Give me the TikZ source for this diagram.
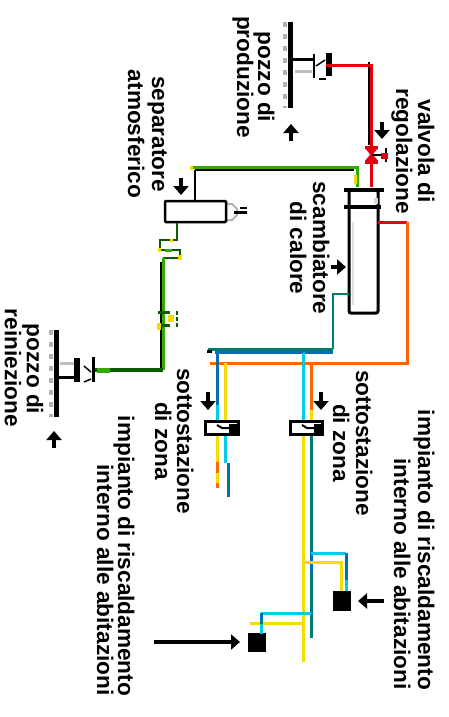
\documentclass[tikz,border=0pt]{standalone}
\usepackage{fontspec}
\setmainfont{Liberation Sans}
\usepackage{tikz}
\usetikzlibrary{arrows.meta}
\definecolor{pipegreen}{HTML}{33AA00}
\definecolor{pipedark}{HTML}{0B5C00}
\definecolor{pipered}{HTML}{E3000F}
\definecolor{pipeorange}{HTML}{FF6600}
\definecolor{pipeyellow}{HTML}{F5DC00}
\definecolor{pipeblue}{HTML}{0070B0}
\definecolor{pipecyan}{HTML}{00CCEE}
\definecolor{pipeteal}{HTML}{007B70}
\tikzset{
    caption/.style={rotate=-90, anchor=base, inner sep=0pt, font=\bfseries\fontsize{22.6}{23}\selectfont},
    pipe/.style={line width=3pt, line join=miter},
    shadow/.style={line width=2pt, black},
    marker/.style={line width=4pt, -{Triangle[width=15pt,length=9pt]}},
    vessel/.style={draw, line width=3pt, fill=white},
    bar/.style={line width=4pt},
    ground/.style={line width=5pt},
    soil/.style={line width=4pt, gray!60, dash pattern=on 5pt off 7pt}
}
\begin{document}
\begin{tikzpicture}[x=1pt, y=-1pt]
    \useasboundingbox (0,0) rectangle (448,717);
    % labels
    \foreach \i/\x/\y/\t in {
        1/258/77/pozzo di, 2/237/77/produzione,
        3/418/151/valvola di, 4/396/151/regolazione,
        5/152/134/separatore, 6/128/134/atmosferico,
        7/313/248/scambiatore, 8/290/248/di calore,
        9/27/369/pozzo di, 10/5/368/reiniezione,
        11/177/441/sottostazione, 12/155/441/di zona,
        13/356/443/sottostazione, 14/333/443/di zona,
        15/418/550/impianto di riscaldamento, 16/394/574/interno alle abitazioni,
        17/118/556/impianto di riscaldamento, 18/97/580/interno alle abitazioni} {
        \node [caption] (label\i) at (\x, \y) {\t};
    }
    % wells
    \foreach \n/\gx/\gy/\gz/\sy in {prod/290/22/108/60, rein/56/330/417/377} {
        \coordinate (\n G1) at (\gx, \gy);
        \coordinate (\n G2) at (\gx, \gz);
        \coordinate (\n S) at (\gx, \sy);
        \draw [soil] ([xshift=-5pt]\n G1) -- ([xshift=-5pt]\n G2);
        \draw [ground] (\n G1) -- (\n G2);
    }
    % production well head
    \coordinate (prodH) at (313, 60);
    \coordinate (prodT1) at (314, 54);
    \coordinate (prodT2) at (314, 78);
    \coordinate (prodB1) at (329, 53);
    \coordinate (prodB2) at (329, 76);
    \draw [line width=3pt] (prodS) -- (prodH);
    \draw [line width=2pt] (prodT1) -- (prodT2);
    \draw [bar, line width=6pt] (prodB1) -- (prodB2);
    \draw [line width=1.5pt] (316,66) -- (325,60);
    \draw [line width=2pt] (319,79) -- (326,79);
    \draw [line width=3pt, gray!50] (295,71) -- (312,71);
    % reinjection well head
    \coordinate (reinH) at (77, 377);
    \coordinate (reinB1) at (77, 358);
    \coordinate (reinB2) at (77, 382);
    \coordinate (reinT1) at (93, 357);
    \coordinate (reinT2) at (93, 382);
    \draw [line width=3pt] (reinS) -- (reinH);
    \draw [bar, line width=6pt] (reinB1) -- (reinB2);
    \draw [line width=3pt] (reinT1) -- (reinT2);
    \draw [line width=1.5pt] (84,366) -- (91,372);
    \draw [line width=1.5pt] (84,382) -- (91,379);
    \draw [line width=3pt, gray!50] (60,363) -- (74,363);
    % heat exchanger
    \coordinate (exT) at (363, 190);
    \coordinate (exHot) at (378, 222);
    \coordinate (exCold) at (349, 294);
    \draw [vessel, rounded corners=2pt] (349,190) rectangle (378,313);
    \fill [gray!25] (351.5,222) rectangle (354,305);
    \coordinate (exA1) at (344, 190);
    \coordinate (exA2) at (384, 190);
    \coordinate (exB1) at (344, 207);
    \coordinate (exB2) at (381, 207);
    \draw [bar] (exA1) -- (exA2);
    \draw [bar] (exB1) -- (exB2);
    \draw [line width=4pt, gray!30] (376,198) -- (376,204);
    % separator
    \coordinate (sepT) at (195, 200);
    \coordinate (sepB) at (177, 223);
    \draw [line width=2pt, gray!60, fill=white] (226,204) -- (232,204) -- (237,209) -- (237,215) -- (232,220) -- (226,220);
    \draw [vessel, line width=2.5pt, rounded corners=1pt] (165,201) rectangle (226,222);
    \coordinate (noz1) at (234, 212);
    \coordinate (noz2) at (247, 212);
    \draw [line width=3pt] (noz1) -- (noz2);
    \draw [line width=2pt] (240,208) -- (247,208);
    % hot line to the exchanger
    \coordinate (redA) at (326, 66);
    \coordinate (redB) at (371, 66);
    \coordinate (redC) at (371, 187);
    \draw [shadow] (369,62) -- (369,145);
    \draw [pipe, pipered] (redA) -- (redB) -- (redC);
    % control valve
    \coordinate (vlvA1) at (365, 147);
    \coordinate (vlvA2) at (378, 147);
    \coordinate (vlvB1) at (365, 162);
    \coordinate (vlvB2) at (378, 162);
    \coordinate (vlvM) at (372, 155);
    \coordinate (vlvK) at (387, 155);
    \draw [line width=3pt, pipered] (vlvA1) -- (vlvA2);
    \draw [line width=3pt, pipered] (vlvB1) -- (vlvB2);
    \draw [line width=2pt, pipered, fill=pipered] (367,149) -- (376,160) -- (367,160) -- (376,149) -- cycle;
    \draw [line width=2pt] (vlvM) -- (vlvK);
    \draw [line width=2pt] (386,148) -- (386,162);
    \fill [pipered] (381,153) rectangle (388,159);
    % green line, separator side
    \coordinate (grA) at (357, 187);
    \coordinate (grB) at (357, 167);
    \coordinate (grC) at (193, 167);
    \draw [shadow] (195,170) -- (354,170);
    \draw [shadow] (195,170) -- (sepT);
    \draw [pipe, pipegreen] (grA) -- (grB) -- (grC);
    \fill [pipeyellow] (190,166) rectangle (193,170);
    \fill [pipeyellow] (354,175) rectangle (357,184);
    % green line, reinjection side
    \coordinate (grD) at (177, 240);
    \coordinate (grE) at (160, 240);
    \coordinate (grF) at (160, 250);
    \coordinate (grG) at (180, 250);
    \coordinate (grH) at (180, 258);
    \coordinate (grI) at (163, 258);
    \coordinate (grJ) at (163, 370);
    \coordinate (grK) at (95, 370);
    \draw [pipe, pipedark, line width=2.5pt] (sepB) -- (grD) -- (grE) -- (grF) -- (grG) -- (grH) -- (grI);
    \fill [pipegreen] (165,249) rectangle (172,252);
    \fill [pipeyellow] (170,239) rectangle (173,242);
    \fill [pipeyellow] (178,255) rectangle (182,260);
    \fill [pipeyellow] (158,248) rectangle (161,252);
    \draw [shadow] (161,262) -- (161,369);
    \draw [pipe, pipegreen] (grI) -- (grJ);
    \draw [pipe, pipedark, line width=4pt] (grJ) -- (grK);
    \fill [pipegreen] (97,368) rectangle (110,373);
    % valve on the green line
    \coordinate (gvA1) at (158, 312);
    \coordinate (gvA2) at (170, 312);
    \coordinate (gvB1) at (158, 325);
    \coordinate (gvB2) at (170, 325);
    \draw [line width=3pt, pipedark] (gvA1) -- (gvA2);
    \draw [line width=3pt, pipedark] (gvB1) -- (gvB2);
    \draw [line width=2.5pt, pipedark, dash pattern=on 4pt off 2pt] (177,311) -- (177,327);
    \fill [pipeyellow] (168,315) rectangle (174,322);
    \fill [pipeyellow] (157,323) rectangle (161,330);
    % orange supply
    \coordinate (orA) at (407, 222);
    \coordinate (orB) at (407, 363);
    \coordinate (orC) at (210, 363);
    \draw [pipe, pipered] (exHot) -- (orA);
    \draw [pipe, pipeorange] (orA) -- (orB) -- (orC);
    % collector
    \coordinate (colA) at (333, 294);
    \coordinate (colB) at (333, 349);
    \coordinate (colC) at (208, 349);
    \coordinate (colD) at (333, 352);
    \coordinate (colE) at (215, 352);
    \draw [line width=2pt, pipeteal] (exCold) -- (colA) -- (colB);
    \draw [line width=3pt, pipeteal] (colB) -- (colC);
    \draw [line width=3pt, pipeblue] (colD) -- (colE);
    \draw [line width=3pt] (207,351) -- (212,351);
    % substations
    \coordinate (lsT1) at (217, 421);
    \coordinate (lsT2) at (225, 421);
    \coordinate (lsB1) at (217, 433);
    \coordinate (lsB2) at (225, 433);
    \coordinate (rsT1) at (303, 421);
    \coordinate (rsT2) at (311, 421);
    \coordinate (rsB1) at (303, 433);
    \coordinate (rsB2) at (311, 433);
    % left substation lines
    \coordinate (lsA) at (217, 352);
    \coordinate (lsC) at (225, 363);
    \draw [pipe, pipeblue] (lsA) -- (217,405);
    \draw [pipe, pipecyan] (217,405) -- (lsT1);
    \draw [pipe, pipeyellow] (lsC) -- (lsT2);
    \draw [pipe, pipeyellow] (lsB1) -- (217,487);
    \draw [pipe, pipeorange] (217,462) -- (217,473);
    \draw [pipe, pipeorange] (217,483) -- (217,488);
    \draw [pipe, pipecyan] (lsB2) -- (225,463);
    \draw [pipe, pipeblue] (228,463) -- (228,497);
    \draw [pipe, pipeteal] (228,480) -- (228,488);
    % right substation lines
    \coordinate (rsA) at (303, 353);
    \coordinate (rsC) at (311, 363);
    \coordinate (rsD) at (303, 662);
    \coordinate (rsE) at (311, 638);
    \draw [pipe, pipecyan] (rsA) -- (rsT1);
    \draw [pipe, pipeorange] (rsC) -- (311,410);
    \draw [pipe, pipeyellow] (311,410) -- (rsT2);
    \draw [pipe, pipeyellow] (rsB1) -- (rsD);
    \draw [pipe, pipeteal] (rsB2) -- (rsE);
    \draw [pipe, pipeblue] (311,550) -- (311,572);
    % substation boxes
    \draw [line width=3pt] (205,421) rectangle (238,434);
    \draw [line width=3pt] (290,421) rectangle (322,434);
    \foreach \x in {217, 302} {
        \draw [line width=2pt] (\x,425) -- (\x+5,428) -- (\x+12,428);
        \fill [black] (\x+12,424) rectangle (\x+20,433);
    }
    % houses
    \node [fill=black, inner sep=0pt, minimum width=18pt, minimum height=20pt] (houseR) at (342, 601) {};
    \node [fill=black, inner sep=0pt, minimum width=18pt, minimum height=19pt] (houseL) at (257, 642.5) {};
    % right branch
    \coordinate (brA) at (311, 553);
    \coordinate (brB) at (346, 553);
    \coordinate (brC) at (346, 580);
    \coordinate (brD) at (303, 562);
    \coordinate (brE) at (341, 562);
    \draw [pipe, pipecyan] (brA) -- (brB);
    \draw [pipe, pipeblue] (brB) -- (brC);
    \draw [pipe, pipecyan] (brC) -- (346,591);
    \draw [pipe, pipeyellow] (brD) -- (brE) -- (341,591);
    % left branch
    \coordinate (blA) at (311, 613);
    \coordinate (blB) at (261, 613);
    \coordinate (blC) at (261, 624);
    \coordinate (blD) at (303, 623);
    \coordinate (blE) at (250, 623);
    \draw [pipe, pipecyan] (blA) -- (blB);
    \draw [pipe, pipeyellow] (blD) -- (blE);
    \draw [pipe, pipeblue] (blB) -- (blC);
    \draw [pipe, pipecyan] (blC) -- (261,634);
    % arrows
    \foreach \i/\ax/\ay/\bx/\by in {
        1/291/141/291/124, 2/382/122/382/139, 3/181/178/181/195,
        4/331/267/346/267, 5/54/448/54/431, 6/208/392/208/410,
        7/321/392/321/410, 8/154/642/240/642, 9/384/601/358/601} {
        \coordinate (mA\i) at (\ax, \ay);
        \coordinate (mB\i) at (\bx, \by);
        \draw [marker] (mA\i) -- (mB\i);
    }
\end{tikzpicture}
\end{document}
